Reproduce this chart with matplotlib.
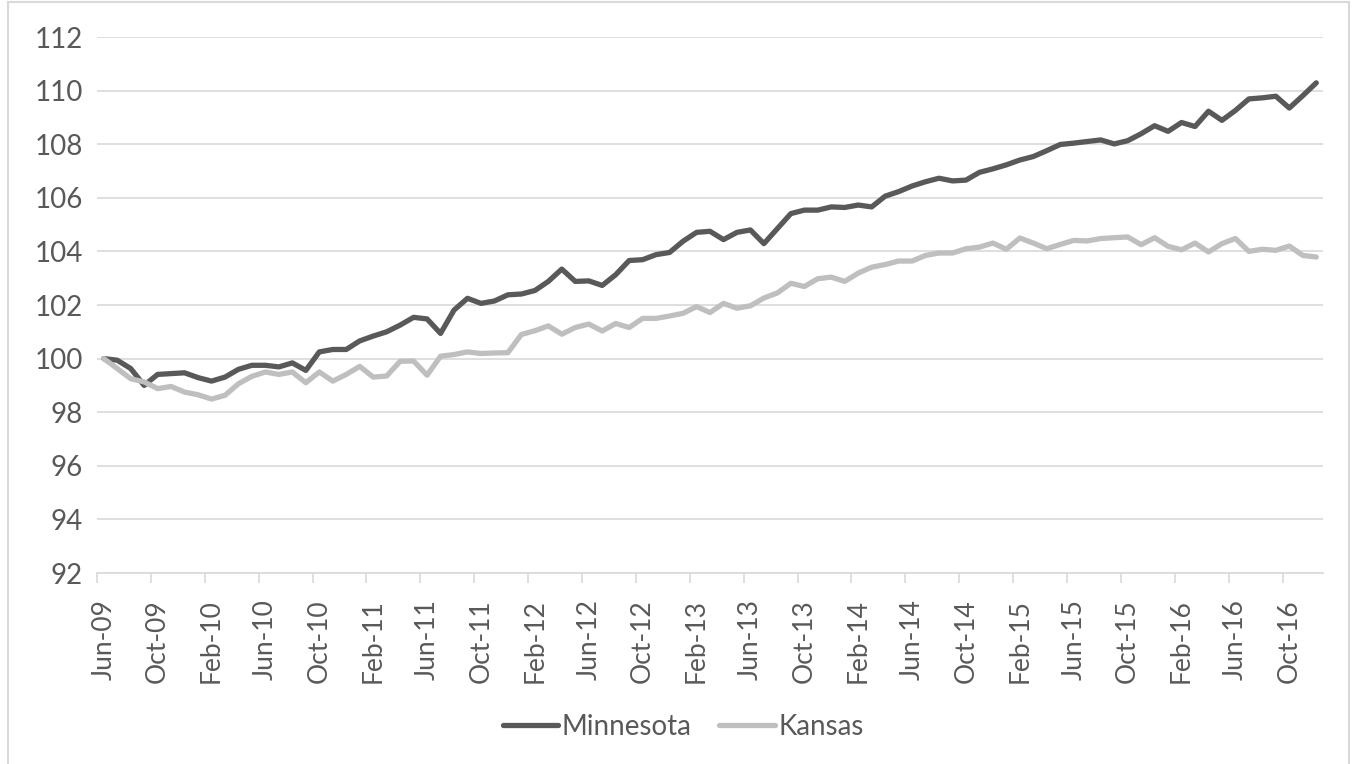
import matplotlib.pyplot as plt
from matplotlib.patches import Rectangle

# Monthly index values, Jun-09 .. Dec-16
minnesota = [100.0, 99.94, 99.63, 99.0, 99.41, 99.44, 99.47, 99.29, 99.16, 99.31,
             99.6, 99.75, 99.75, 99.69, 99.84, 99.56, 100.25, 100.34, 100.34, 100.66,
             100.84, 101.0, 101.25, 101.54, 101.48, 100.94, 101.81, 102.25, 102.06, 102.15,
             102.38, 102.41, 102.54, 102.88, 103.34, 102.88, 102.9, 102.73, 103.13, 103.66,
             103.69, 103.88, 103.96, 104.38, 104.71, 104.75, 104.44, 104.71, 104.8, 104.29,
             104.85, 105.41, 105.54, 105.54, 105.66, 105.64, 105.73, 105.66, 106.06, 106.23,
             106.44, 106.6, 106.73, 106.63, 106.66, 106.95, 107.08, 107.23, 107.41, 107.54,
             107.76, 107.99, 108.04, 108.1, 108.16, 108.01, 108.13, 108.39, 108.69, 108.48,
             108.81, 108.66, 109.23, 108.89, 109.26, 109.69, 109.73, 109.79, 109.35, 109.81,
             110.29]
kansas = [100.0, 99.63, 99.25, 99.13, 98.88, 98.96, 98.75, 98.65, 98.49, 98.63,
          99.06, 99.34, 99.5, 99.41, 99.5, 99.1, 99.5, 99.16, 99.41, 99.71,
          99.31, 99.35, 99.9, 99.91, 99.38, 100.09, 100.15, 100.25, 100.19, 100.21,
          100.22, 100.9, 101.04, 101.22, 100.91, 101.16, 101.29, 101.03, 101.31, 101.16,
          101.5, 101.5, 101.59, 101.69, 101.94, 101.72, 102.06, 101.88, 101.97, 102.26,
          102.45, 102.81, 102.69, 102.98, 103.04, 102.88, 103.19, 103.41, 103.51, 103.64,
          103.64, 103.85, 103.94, 103.94, 104.1, 104.16, 104.31, 104.08, 104.5, 104.31,
          104.1, 104.26, 104.41, 104.39, 104.48, 104.51, 104.54, 104.25, 104.51, 104.19,
          104.06, 104.31, 103.98, 104.29, 104.48, 104.0, 104.08, 104.04, 104.2, 103.85,
          103.79]

tick_labels = ["Jun-09", "Oct-09", "Feb-10", "Jun-10", "Oct-10", "Feb-11", "Jun-11",
               "Oct-11", "Feb-12", "Jun-12", "Oct-12", "Feb-13", "Jun-13", "Oct-13",
               "Feb-14", "Jun-14", "Oct-14", "Feb-15", "Jun-15", "Oct-15", "Feb-16",
               "Jun-16", "Oct-16"]

plt.rcParams['font.family'] = ['Lato', 'DejaVu Sans']
text_color = '#595959'
grid_color = '#D9D9D9'

fig = plt.figure(figsize=(13.53, 7.64), dpi=100)
ax = fig.add_axes([97 / 1353, 1 - 573 / 764, 1226 / 1353, 536 / 764])

x = list(range(len(minnesota)))
ax.plot(x, minnesota, color='#595959', linewidth=3.8, label='Minnesota', solid_capstyle='round')
ax.plot(x, kansas, color='#BFBFBF', linewidth=3.8, label='Kansas', solid_capstyle='round')

ax.set_xlim(-0.5, len(x) - 0.5)
ax.set_ylim(92, 112)
ax.set_yticks(range(92, 113, 2))
ax.yaxis.grid(True, color=grid_color, linewidth=1.2)
ax.set_axisbelow(True)

# labels sit on the month, tick marks sit between months
label_pos = list(range(0, len(x), 4))[:len(tick_labels)]
ax.set_xticks([p - 0.5 for p in label_pos])
ax.set_xticklabels([])
ax.set_xticks(label_pos, minor=True)
ax.set_xticklabels(tick_labels, minor=True, rotation=90, fontsize=19, color=text_color)
ax.tick_params(axis='x', which='major', length=7, width=1.2, color=grid_color)
ax.tick_params(axis='x', which='minor', length=0, pad=19)
ax.tick_params(axis='y', length=0, pad=10, labelsize=20, labelcolor=text_color)

for side in ['top', 'right', 'left']:
    ax.spines[side].set_visible(False)
ax.spines['bottom'].set_color(grid_color)
ax.spines['bottom'].set_linewidth(1.2)

fig.legend(loc='center', bbox_to_anchor=(0.505, 1 - 727 / 764), ncol=2, frameon=False,
           fontsize=20, handlelength=2.0, handletextpad=0.12, columnspacing=1.0,
           labelcolor=text_color)

# chart area border
fig.patches.append(Rectangle((8 / 1353, -0.01), 1341 / 1353, 1 - 2 / 764 + 0.01,
                             transform=fig.transFigure, fill=False,
                             edgecolor=grid_color, linewidth=1.5))

fig.savefig('out.png', dpi=100, facecolor='white')
